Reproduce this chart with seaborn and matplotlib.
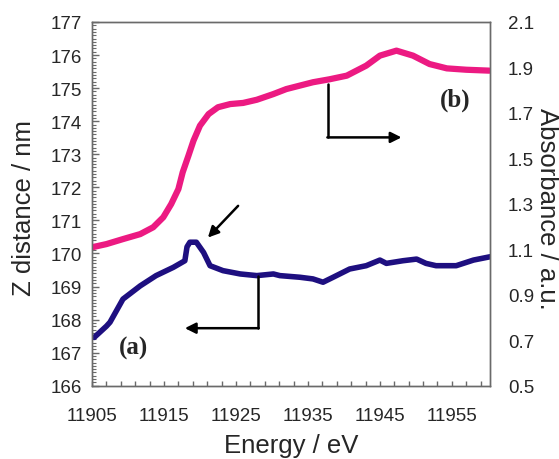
import matplotlib
matplotlib.use("Agg")
from matplotlib import pyplot as plt
from matplotlib.ticker import MultipleLocator, FixedLocator
import numpy as np
import seaborn as sns

# (a) Z distance vs energy (left axis)
energy_a = [11905.3, 11907.0, 11907.5, 11909.3, 11911.7, 11913.9, 11916.3, 11917.9,
            11918.2, 11918.6, 11919.5, 11920.5, 11921.4, 11923.2, 11925.6, 11927.9,
            11930.2, 11931.1, 11933.9, 11935.7, 11937.1, 11938.5, 11940.8, 11943.1,
            11945.0, 11945.9, 11948.2, 11950.1, 11951.4, 11952.8, 11955.6, 11958.0,
            11960.3]
zdist_a = [167.46, 167.80, 167.92, 168.62, 169.02, 169.33, 169.58, 169.78,
           170.20, 170.34, 170.34, 170.03, 169.63, 169.48, 169.38, 169.33,
           169.38, 169.33, 169.28, 169.23, 169.13, 169.28, 169.53, 169.63,
           169.80, 169.70, 169.78, 169.83, 169.70, 169.63, 169.63, 169.80,
           169.90]

# (b) absorbance vs energy (right axis)
energy_b = [11905.0, 11907.0, 11909.3, 11911.7, 11913.5, 11914.9, 11916.0, 11917.0,
            11917.6, 11918.4, 11919.1, 11920.0, 11921.2, 11922.5, 11924.2, 11926.0,
            11927.9, 11930.2, 11932.0, 11935.7, 11938.0, 11940.4, 11943.1, 11945.0,
            11947.3, 11949.6, 11951.9, 11954.3, 11957.0, 11960.2]
absorb_b = [1.109, 1.123, 1.145, 1.167, 1.197, 1.241, 1.299, 1.365,
            1.439, 1.512, 1.578, 1.644, 1.695, 1.725, 1.739, 1.744,
            1.758, 1.783, 1.805, 1.835, 1.848, 1.864, 1.908, 1.952,
            1.974, 1.952, 1.915, 1.896, 1.890, 1.886]

x_labels = [11905, 11915, 11925, 11935, 11945, 11955]
right_ticks = [0.5, 0.7, 0.9, 1.1, 1.3, 1.5, 1.7, 1.9, 2.1]

sns.set_theme(style="white")
plt.rcParams['font.family'] = ['Liberation Sans', 'DejaVu Sans']

pink = "#ec1a82"
navy = "#1e0f80"
spine_col = "#6a6a6a"
tick_fs = 13.5

fig = plt.figure(figsize=(5.59, 4.60), dpi=100)
ax = fig.add_axes([0.1646, 0.1593, 0.712, 0.7907])
ax2 = ax.twinx()

sns.lineplot(x=energy_a, y=zdist_a, ax=ax, color=navy, linewidth=4, sort=False)
sns.lineplot(x=energy_b, y=absorb_b, ax=ax2, color=pink, linewidth=4.5, sort=False)
for ln in ax.lines + ax2.lines:
    ln.set_solid_joinstyle('round')
    ln.set_solid_capstyle('round')

ax.set_xlim(11905, 11960.3)
ax.set_ylim(166, 177)
ax2.set_ylim(0.5, 2.1)

ax.set_xticks(x_labels, labels=[str(v) for v in x_labels], fontsize=tick_fs)
ax.xaxis.set_minor_locator(FixedLocator(np.arange(11907, 11960, 2)))
left_ticks = list(range(166, 178))
ax.set_yticks(left_ticks, labels=[str(v) for v in left_ticks], fontsize=tick_fs)
ax.yaxis.set_minor_locator(MultipleLocator(0.1))
ax2.set_yticks(right_ticks, labels=[f"{v:.1f}" for v in right_ticks], fontsize=tick_fs)

ax.tick_params(axis='x', which='both', direction='in', length=3.5, width=1,
               color=spine_col, pad=15, bottom=True)
ax.tick_params(axis='y', which='major', direction='in', length=5, width=1,
               color=spine_col, pad=7, left=True)
ax.tick_params(axis='y', which='minor', direction='in', length=3, width=0.8,
               color=spine_col, left=True)
ax2.tick_params(axis='y', length=0, pad=13)

for a in (ax, ax2):
    for s in a.spines.values():
        s.set_color(spine_col)
        s.set_linewidth(1)

ax.set_xlabel("Energy / eV", fontsize=18.5, va='center')
ax.xaxis.set_label_coords(0.5, -0.163)
ax.set_ylabel("Z distance / nm", fontsize=18.5, va='center', ha='center')
ax.yaxis.set_label_coords(-0.172, 0.49)
ax2.set_ylabel("Absorbance / a.u.", fontsize=18.5, rotation=270,
               va='center', ha='center')
ax2.yaxis.set_label_coords(1.142, 0.49)

# annotations (in left-axis data coordinates)
arrow = dict(arrowstyle='-|>', color='black', lw=1.8, mutation_scale=16,
             shrinkA=0, shrinkB=0)
ax.annotate("", xy=(11921.1, 170.48), xytext=(11925.3, 171.44), arrowprops=arrow)
ax.plot([11937.8, 11937.8], [175.12, 173.51], color='black', lw=1.8)
ax.annotate("", xy=(11948.0, 173.51), xytext=(11937.7, 173.51), arrowprops=arrow)
ax.plot([11928.06, 11928.06], [169.33, 167.74], color='black', lw=1.8)
ax.annotate("", xy=(11917.9, 167.74), xytext=(11928.16, 167.74), arrowprops=arrow)

ax.text(11910.7, 167.17, "(a)", fontsize=18, fontweight='bold',
        family='Liberation Serif', ha='center', va='center')
ax.text(11955.4, 174.67, "(b)", fontsize=18, fontweight='bold',
        family='Liberation Serif', ha='center', va='center')

fig.savefig("out.png", dpi=100)
